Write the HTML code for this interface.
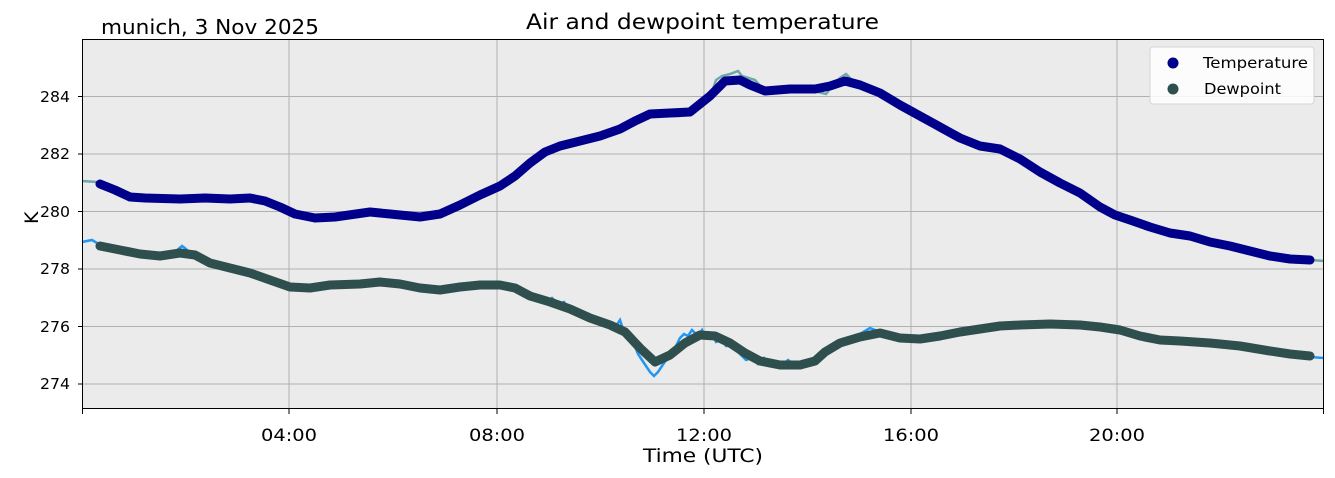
<!DOCTYPE html>
<html><head><meta charset="utf-8"><style>
body{margin:0;background:#fff;width:1335px;height:478px;overflow:hidden}
svg{display:block;font-family:"DejaVu Sans","Liberation Sans",sans-serif}
</style></head><body>
<svg width="1335" height="478" viewBox="0 0 1335 478">
<rect x="82.5" y="39.5" width="1241" height="369" fill="#ebebeb"/>
<g stroke="#b0b0b0" stroke-width="1">
<line x1="289" y1="39" x2="289" y2="409"/><line x1="497" y1="39" x2="497" y2="409"/>
<line x1="704" y1="39" x2="704" y2="409"/><line x1="911" y1="39" x2="911" y2="409"/>
<line x1="1117" y1="39" x2="1117" y2="409"/>
<line x1="82" y1="96.5" x2="1323" y2="96.5"/><line x1="82" y1="154" x2="1323" y2="154"/>
<line x1="82" y1="211.5" x2="1323" y2="211.5"/><line x1="82" y1="269" x2="1323" y2="269"/>
<line x1="82" y1="326.5" x2="1323" y2="326.5"/><line x1="82" y1="384" x2="1323" y2="384"/>
</g>
<g fill="none" stroke-width="2.5">
<polyline stroke="#6fa8a8" points="82,181 97,182"/>
<polyline stroke="#6fa8a8" points="1310,260 1324,261"/>
<polyline stroke="#6fa8a8" points="700,104 712,92 716,80 722,76 730,74 738,71 742,76 755,80 762,88 818,92 826,94 834,84 840,78 846,74 852,80"/>
<polyline stroke="#6fa8a8" points="645,112 660,116 680,116 690,112"/>
<polyline stroke="#2196f3" points="82,242 92,240 97,243"/>
<polyline stroke="#2196f3" points="1310,357 1324,358"/>
<polyline stroke="#2196f3" points="175,252 182,246 186,249 190,253"/>
<polyline stroke="#2196f3" points="530,292 536,298 540,296 546,302 552,298 558,304 564,302 570,310 580,312 590,318 600,322 610,322 616,326 620,320 624,332 630,338 634,344 638,354 642,360 646,366 650,372 654,376 658,372 662,366 666,360 672,354 676,346 680,338 684,334 688,336 692,330 698,336 702,330 706,338 712,334 716,342 722,340 726,346 732,346 740,354 746,360 752,358 758,364 764,358 770,366 776,362 782,366 788,360 794,364 800,362"/>
<polyline stroke="#2196f3" points="860,334 870,328 880,332 890,334 900,340 910,338"/>
</g>
<g fill="none" stroke-width="9" stroke-linecap="round" stroke-linejoin="round">
<polyline stroke="#00008b" points="100,184 115,190 130,197 145,198 180,199 205,198 230,199 250,198 265,201 280,207 295,214 315,218 335,217 370,212 390,214 420,217 440,214 460,205 480,195 500,186 515,176 530,163 545,152 560,146 580,141 600,136 620,129 635,121 650,114 670,113 690,112 700,104 710,96 725,81 740,80 750,85 765,91 790,89 815,89 830,86 845,81 860,85 880,93 900,105 920,116 940,127 960,138 980,146 1000,149 1020,159 1040,172 1060,183 1080,193 1100,207 1115,215 1130,220 1150,227 1170,233 1190,236 1210,242 1230,246 1250,251 1270,256 1290,259 1310,260"/>
<polyline stroke="#2f4f4f" points="100,246 120,250 140,254 160,256 180,253 195,255 210,263 230,268 250,273 270,280 290,287 310,288 330,285 360,284 380,282 400,284 420,288 440,290 460,287 480,285 500,285 515,288 530,296 550,302 570,309 590,318 610,325 625,332 640,348 655,362 670,355 685,343 700,335 715,336 730,343 745,353 760,361 780,365 800,365 815,361 825,352 840,343 860,337 880,333 900,338 920,339 940,336 960,332 980,329 1000,326 1020,325 1050,324 1080,325 1100,327 1120,330 1140,336 1160,340 1180,341 1210,343 1240,346 1270,351 1290,354 1310,356"/>
</g>
<rect x="82.5" y="39.5" width="1241" height="369" fill="none" stroke="#000" stroke-width="1"/>
<g stroke="#000" stroke-width="1">
<line x1="82.5" y1="409" x2="82.5" y2="414"/><line x1="289" y1="409" x2="289" y2="414"/><line x1="497" y1="409" x2="497" y2="414"/><line x1="704" y1="409" x2="704" y2="414"/><line x1="911" y1="409" x2="911" y2="414"/><line x1="1117" y1="409" x2="1117" y2="414"/><line x1="1323.5" y1="409" x2="1323.5" y2="414"/>
<line x1="78" y1="96.5" x2="82" y2="96.5"/><line x1="78" y1="154" x2="82" y2="154"/><line x1="78" y1="211.5" x2="82" y2="211.5"/><line x1="78" y1="269" x2="82" y2="269"/><line x1="78" y1="326.5" x2="82" y2="326.5"/><line x1="78" y1="384" x2="82" y2="384"/>
</g>
<g font-size="15" fill="#000" lengthAdjust="spacingAndGlyphs">
<text x="40" y="102" textLength="30" lengthAdjust="spacingAndGlyphs">284</text><text x="40" y="159" textLength="30" lengthAdjust="spacingAndGlyphs">282</text><text x="40" y="217" textLength="30" lengthAdjust="spacingAndGlyphs">280</text><text x="40" y="274" textLength="30" lengthAdjust="spacingAndGlyphs">278</text><text x="40" y="332" textLength="30" lengthAdjust="spacingAndGlyphs">276</text><text x="40" y="389" textLength="30" lengthAdjust="spacingAndGlyphs">274</text>
</g>
<g font-size="17" fill="#000">
<text x="261" y="441" textLength="56" lengthAdjust="spacingAndGlyphs">04:00</text><text x="469" y="441" textLength="56" lengthAdjust="spacingAndGlyphs">08:00</text><text x="676" y="441" textLength="56" lengthAdjust="spacingAndGlyphs">12:00</text><text x="883" y="441" textLength="56" lengthAdjust="spacingAndGlyphs">16:00</text><text x="1089" y="441" textLength="56" lengthAdjust="spacingAndGlyphs">20:00</text>
<text x="643" y="462" font-size="19" textLength="120" lengthAdjust="spacingAndGlyphs">Time (UTC)</text>
<text x="526" y="29" font-size="21" textLength="353" lengthAdjust="spacingAndGlyphs">Air and dewpoint temperature</text>
<text x="101" y="34" font-size="20" textLength="218" lengthAdjust="spacingAndGlyphs">munich, 3 Nov 2025</text>
<text x="30" y="232" font-size="19" transform="rotate(-90 30 224)">K</text>
</g>
<rect x="1150" y="47" width="164" height="57" rx="3" fill="#fff" fill-opacity="0.85" stroke="#d5d5d5"/>
<circle cx="1173" cy="63" r="5.5" fill="#00008b"/>
<circle cx="1173" cy="89" r="5.5" fill="#2f4f4f"/>
<g font-size="15" fill="#000"><text x="1203" y="68" textLength="105" lengthAdjust="spacingAndGlyphs">Temperature</text><text x="1204" y="94" textLength="77" lengthAdjust="spacingAndGlyphs">Dewpoint</text></g>
</svg>
</body></html>
